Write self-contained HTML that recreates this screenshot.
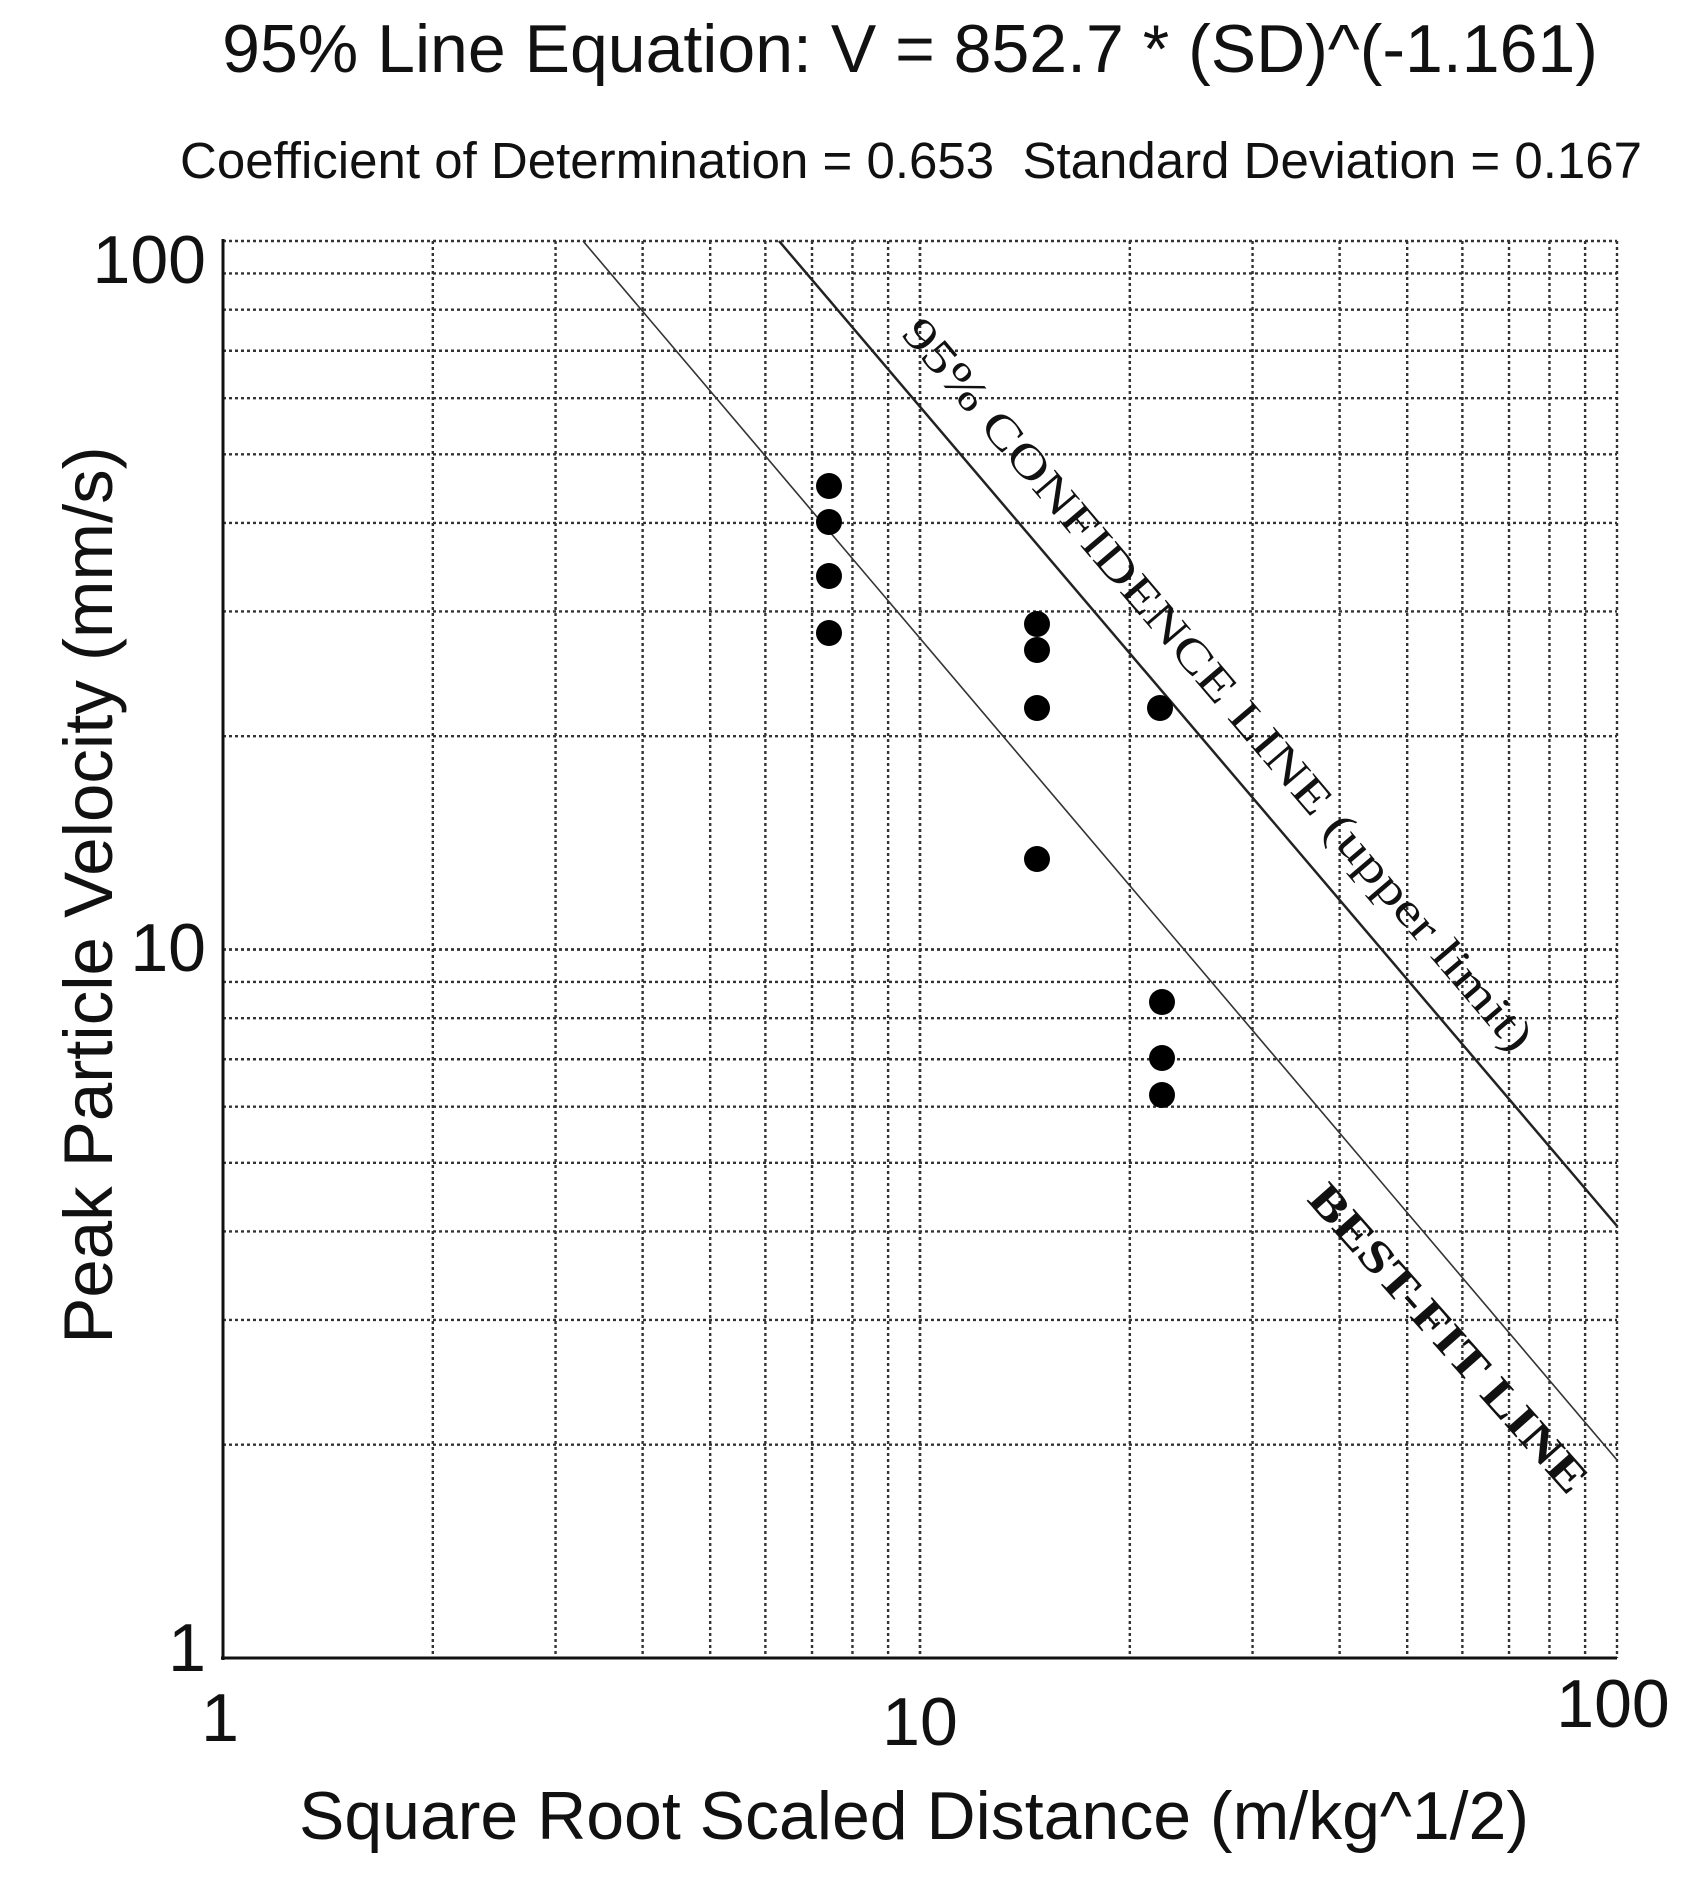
<!DOCTYPE html>
<html><head><meta charset="utf-8"><style>html,body{margin:0;padding:0;background:#fff}</style></head>
<body>
<svg xmlns="http://www.w3.org/2000/svg" width="1683" height="1890" viewBox="0 0 1683 1890">
<rect width="1683" height="1890" fill="#fff"/>
<g stroke="#333" stroke-width="2.4" stroke-dasharray="3,3" fill="none" id="grid"></g>
<script>
(function(){
var g=document.getElementById('grid');var ns='http://www.w3.org/2000/svg';
var x0=223,x1=1617,y0=241,y1=1658,dx=(x1-x0)/2,dy=(y1-y0)/2;
function L(a,b,c,d){var l=document.createElementNS(ns,'line');l.setAttribute('x1',a);l.setAttribute('y1',b);l.setAttribute('x2',c);l.setAttribute('y2',d);g.appendChild(l);}
for(var dec=0;dec<2;dec++){for(var k=1;k<=10;k++){if(dec==0&&k==1)continue;var v=Math.log10(k)+dec;
var x=x0+v*dx;L(x,y0,x,y1);var y=y1-v*dy;L(x0,y,x1,y);}}
})();
</script>
<g stroke="#111" stroke-width="3" fill="none">
<line x1="223" y1="239" x2="223" y2="1660"/>
<line x1="221" y1="1658" x2="1617" y2="1658"/>
</g>
<line x1="779" y1="241" x2="1617" y2="1226" stroke="#222" stroke-width="2.5"/>
<line x1="583" y1="241" x2="1617" y2="1460" stroke="#333" stroke-width="1.6"/>
<g fill="#000">
<circle cx="829" cy="486" r="13"/><circle cx="829" cy="522" r="13"/><circle cx="829" cy="576" r="13"/><circle cx="829" cy="633" r="13"/>
<circle cx="1037" cy="624" r="13"/><circle cx="1037" cy="650" r="13"/><circle cx="1037" cy="708" r="13"/><circle cx="1037" cy="859" r="13"/>
<circle cx="1160" cy="708" r="13"/><circle cx="1162" cy="1002" r="13"/><circle cx="1162" cy="1058" r="13"/><circle cx="1162" cy="1095" r="13"/>
</g>
<g font-family="Liberation Serif, serif" font-size="46" fill="#111">
<text x="900" y="334" transform="rotate(49.6 900 334)" textLength="946" lengthAdjust="spacingAndGlyphs">95% CONFIDENCE LINE (upper limit)</text>
<text x="1306" y="1200" transform="rotate(48.5 1306 1200)" textLength="396" lengthAdjust="spacingAndGlyphs" font-weight="bold">BEST-FIT LINE</text>
</g>
<g font-family="Liberation Sans, sans-serif" fill="#111">
<text x="910" y="72" font-size="68" text-anchor="middle">95% Line Equation: V = 852.7 * (SD)^(-1.161)</text>
<text x="911" y="178" font-size="51" text-anchor="middle" xml:space="preserve">Coefficient of Determination = 0.653  Standard Deviation = 0.167</text>
<g font-size="68" text-anchor="end">
<text x="206" y="283">100</text>
<text x="206" y="971">10</text>
<text x="206" y="1671">1</text>
</g>
<g font-size="68" text-anchor="middle">
<text x="220" y="1741">1</text>
<text x="920" y="1745">10</text>
<text x="1613" y="1727">100</text>
</g>
<text x="914" y="1839" font-size="68" text-anchor="middle">Square Root Scaled Distance (m/kg^1/2)</text>
<text transform="translate(112 895) rotate(-90)" font-size="69" text-anchor="middle">Peak Particle Velocity (mm/s)</text>
</g>
</svg>
</body></html>
